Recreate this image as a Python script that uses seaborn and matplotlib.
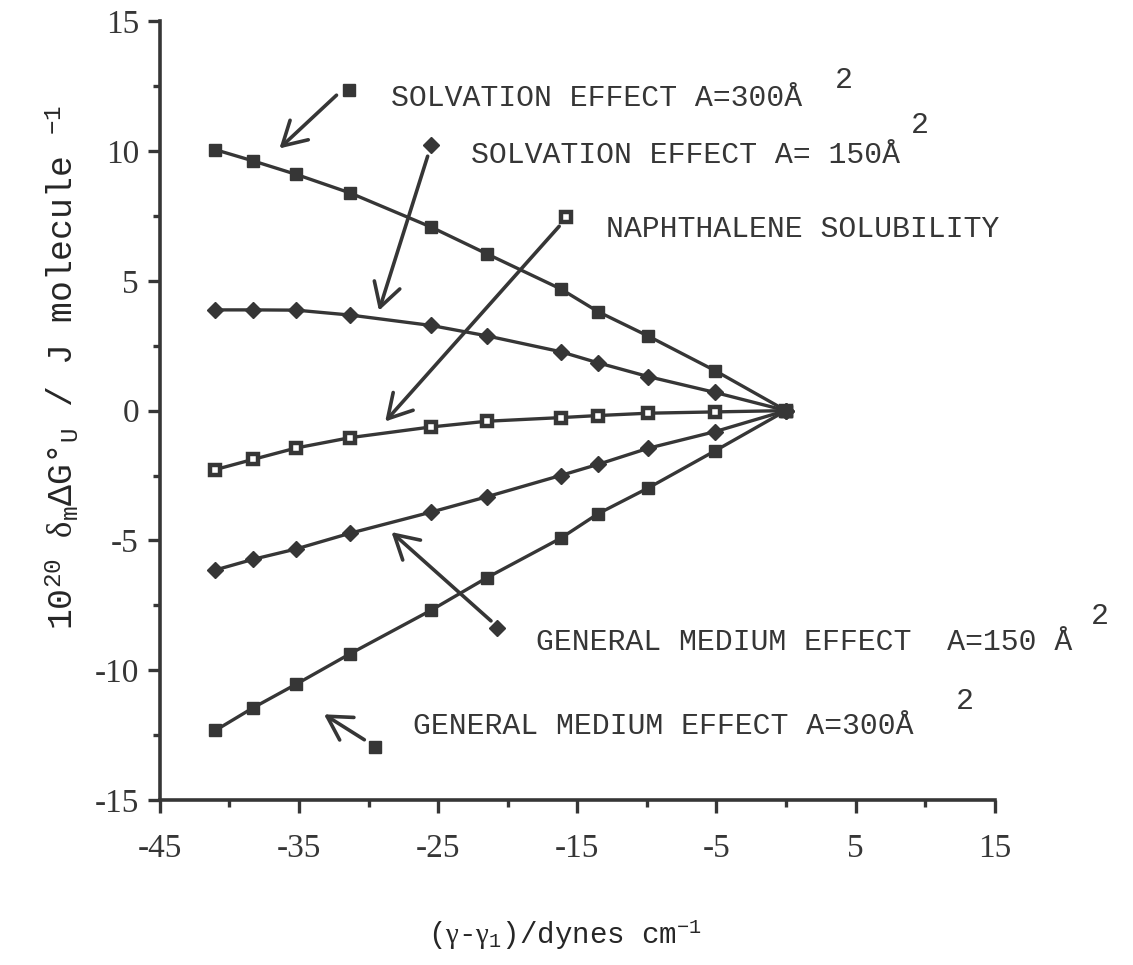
import matplotlib
matplotlib.use("Agg")
import matplotlib.pyplot as plt
from matplotlib.ticker import MultipleLocator
import seaborn as sns
import pandas as pd

# surface-tension difference (gamma - gamma_1), dynes/cm
gamma_diff = [-41.0, -38.3, -35.2, -31.3, -25.5, -21.5, -16.2, -13.5, -9.9, -5.1, 0.0]

# 10^20 delta_m dG_u, J/molecule
solvation_300 = [10.05, 9.62, 9.10, 8.38, 7.07, 6.04, 4.69, 3.81, 2.87, 1.54, 0.0]
solvation_150 = [3.88, 3.88, 3.87, 3.68, 3.28, 2.88, 2.27, 1.84, 1.31, 0.70, 0.0]
naphthalene = [-2.27, -1.88, -1.44, -1.04, -0.63, -0.41, -0.27, -0.19, -0.10, -0.05, 0.0]
general_150 = [-6.14, -5.73, -5.33, -4.72, -3.91, -3.32, -2.50, -2.07, -1.45, -0.81, 0.0]
general_300 = [-12.32, -11.45, -10.54, -9.36, -7.69, -6.44, -4.92, -3.97, -2.98, -1.55, 0.0]

x_ticks = [-45, -35, -25, -15, -5, 5, 15]
y_ticks = [-15, -10, -5, 0, 5, 10, 15]

INK = "#363636"

sns.set_theme(style="ticks")
plt.rcParams.update({
    "font.family": ["Liberation Mono", "DejaVu Sans"],
    "axes.unicode_minus": False,
    "mathtext.fontset": "custom",
    "mathtext.rm": "Liberation Mono",
    "mathtext.it": "Liberation Serif",
    "mathtext.bf": "Liberation Mono:bold",
    "text.color": INK,
    "axes.edgecolor": INK,
    "xtick.color": INK,
    "ytick.color": INK,
})

fig = plt.figure(figsize=(11.33, 9.65), dpi=100)
ax = fig.add_axes([0.141, 0.171, 0.737, 0.807])

filled_sq = dict(marker="s", markersize=9, markerfacecolor=INK,
                 markeredgecolor=INK, markeredgewidth=1)
filled_dia = dict(marker="D", markersize=8, markerfacecolor=INK,
                  markeredgecolor=INK, markeredgewidth=1)
open_sq = dict(marker="s", markersize=6.8, markerfacecolor="white",
               markeredgecolor=INK, markeredgewidth=3.2)

# drawing order: open squares first, filled squares last so they sit on top at 0
series = [
    ("naph", naphthalene, open_sq),
    ("solv150", solvation_150, filled_dia),
    ("gen150", general_150, filled_dia),
    ("solv300", solvation_300, filled_sq),
    ("gen300", general_300, filled_sq),
]

for name, values, style in series:
    df = pd.DataFrame({"x": gamma_diff, "y": values})
    sns.lineplot(data=df, x="x", y="y", ax=ax, color=INK, linewidth=2.4,
                 errorbar=None, sort=True, zorder=3, **style)

ax.set_xlim(-45, 15)
ax.set_ylim(-15, 15)
ax.set_xticks(x_ticks)
ax.set_yticks(y_ticks)
ax.xaxis.set_minor_locator(MultipleLocator(5))
ax.yaxis.set_minor_locator(MultipleLocator(2.5))
sns.despine(ax=ax)
for side in ("left", "bottom"):
    ax.spines[side].set_linewidth(2.6)
ax.tick_params(which="major", direction="out", length=9, width=2.4,
               labelsize=24, labelfontfamily="Liberation Serif")
ax.tick_params(axis="x", which="major", pad=15)
ax.tick_params(axis="y", which="major", pad=6)
ax.tick_params(which="minor", direction="out", length=5, width=2.4)
ax.grid(False)

# axis titles
ax.set_xlabel(r"$(\gamma$-$\gamma_{1})$/dynes cm$^{-1}$", fontsize=21)
ax.xaxis.set_label_coords(0.485, -0.173)
ax.xaxis.label.set_va("center")
ax.set_ylabel(r"10$^{20}$ $\delta_{\rm m}\Delta$G°$_{\rm U}$ / J molecule $^{-1}$",
              fontsize=25)
ax.yaxis.set_label_coords(-0.117, 0.555)
ax.yaxis.label.set_va("center")

# curve labels: symbol, arrow to curve, caption, raised "2"
arrow_kw = dict(arrowstyle="->,head_length=0.42,head_width=0.24", color=INK, lw=2.6,
                mutation_scale=40, shrinkA=0, shrinkB=0)
notes = [
    # symbol pos, symbol style, arrow start, arrow tip, caption pos, caption, sup pos
    ((-31.4, 12.37), filled_sq, (-32.3, 12.15), (-36.4, 10.1), (-28.4, 12.04),
     "SOLVATION EFFECT A=300Å", (3.5, 12.75)),
    ((-25.5, 10.23), filled_dia, (-25.75, 9.8), (-29.25, 3.85), (-22.6, 9.83),
     "SOLVATION EFFECT A= 150Å", (8.95, 11.0)),
    ((-15.82, 7.45), open_sq, (-16.3, 7.1), (-28.8, -0.42), (-12.9, 6.99),
     "NAPHTHALENE SOLUBILITY", None),
    ((-20.76, -8.36), filled_dia, (-21.2, -8.1), (-28.35, -4.68), (-17.96, -8.92),
     "GENERAL MEDIUM EFFECT  A=150 Å", (21.9, -7.9)),
    ((-29.56, -12.94), filled_sq, (-30.3, -12.68), (-33.2, -11.7), (-26.78, -12.15),
     "GENERAL MEDIUM EFFECT A=300Å", (12.2, -11.2)),
]
for sym_xy, sym, start, tip, cap_xy, caption, sup_xy in notes:
    ax.annotate("", xy=tip, xytext=start, arrowprops=arrow_kw, zorder=4)
    ax.plot([sym_xy[0]], [sym_xy[1]], linestyle="none", zorder=5, clip_on=False, **sym)
    ax.text(cap_xy[0], cap_xy[1], caption, fontsize=21.5, ha="left", va="center",
            clip_on=False)
    if sup_xy is not None:
        ax.text(sup_xy[0], sup_xy[1], "2", fontsize=21.5, ha="left", va="center",
                clip_on=False)

fig.savefig("out.png", dpi=100, facecolor="white")
